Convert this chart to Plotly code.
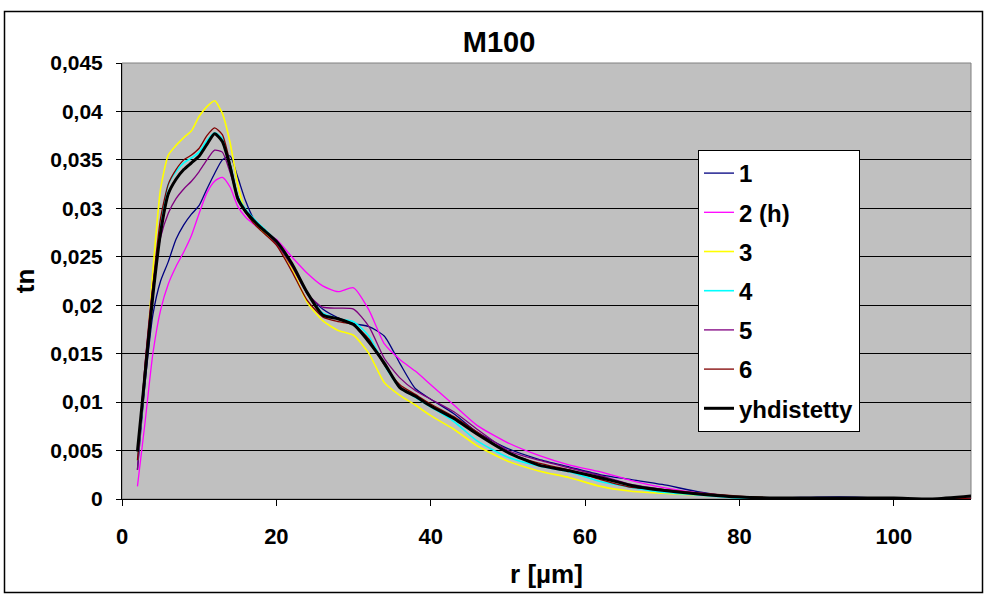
import plotly.graph_objects as go

# Radius bins [µm]
r = [2, 3, 4, 5, 6, 7, 8, 9, 10, 11, 12, 13, 14, 15, 16, 17, 18, 20, 22, 24, 26, 28, 30,
     32, 34, 36, 38, 40, 43, 46, 50, 54, 58, 62, 66, 70, 75, 80, 85, 90, 95, 100, 105, 110]

s1 = [0.0030, 0.0120, 0.0190, 0.0225, 0.0245, 0.0268, 0.0283, 0.0294, 0.0303, 0.0320, 0.0336, 0.0350, 0.0354,
      0.0332, 0.0308, 0.0290, 0.0280, 0.0265, 0.0242, 0.0212, 0.0196, 0.0187, 0.0181,
      0.0178, 0.0168, 0.0140, 0.0114, 0.0103, 0.0088, 0.0069, 0.0052, 0.0041, 0.0033, 0.0025, 0.0020,
      0.0015, 0.0007, 0.0002, 0.0001, 0.0002, 0.0002, 0.0000, 0.0000, 0.0001]
s2 = [0.0013, 0.0080, 0.0150, 0.0195, 0.0222, 0.0240, 0.0255, 0.0272, 0.0295, 0.0316, 0.0328, 0.0332, 0.0322,
      0.0302, 0.0291, 0.0284, 0.0278, 0.0268, 0.0250, 0.0233, 0.0220, 0.0214, 0.0218,
      0.0195, 0.0160, 0.0144, 0.0132, 0.0118, 0.0097, 0.0076, 0.0058, 0.0045, 0.0035, 0.0028, 0.0019,
      0.0012, 0.0006, 0.0002, 0.0001, 0.0001, 0.0001, 0.0000, 0.0000, 0.0001]
s3 = [0.0040, 0.0130, 0.0235, 0.0320, 0.0355, 0.0365, 0.0373, 0.0380, 0.0395, 0.0405, 0.0411, 0.0398, 0.0368,
      0.0325, 0.0296, 0.0286, 0.0278, 0.0263, 0.0238, 0.0203, 0.0184, 0.0174, 0.0169,
      0.0150, 0.0120, 0.0107, 0.0097, 0.0086, 0.0072, 0.0055, 0.0039, 0.0029, 0.0022, 0.0013, 0.0008,
      0.0006, 0.0004, 0.0002, 0.0001, 0.0001, 0.0000, 0.0000, 0.0000, 0.0001]
s4 = [0.0040, 0.0130, 0.0210, 0.0280, 0.0325, 0.0338, 0.0347, 0.0352, 0.0358, 0.0370, 0.0378, 0.0372, 0.0347,
      0.0313, 0.0299, 0.0290, 0.0282, 0.0266, 0.0242, 0.0212, 0.0192, 0.0186, 0.0183,
      0.0168, 0.0138, 0.0115, 0.0105, 0.0095, 0.0080, 0.0060, 0.0043, 0.0034, 0.0028, 0.0018, 0.0012,
      0.0007, 0.0004, 0.0001, 0.0001, 0.0001, 0.0001, 0.0000, 0.0000, 0.0001]
s5 = [0.0030, 0.0140, 0.0220, 0.0270, 0.0295, 0.0310, 0.0320, 0.0328, 0.0338, 0.0350, 0.0360, 0.0358, 0.0337,
      0.0312, 0.0296, 0.0287, 0.0280, 0.0263, 0.0240, 0.0212, 0.0198, 0.0197, 0.0196,
      0.0178, 0.0145, 0.0125, 0.0112, 0.0103, 0.0090, 0.0072, 0.0050, 0.0040, 0.0032, 0.0024, 0.0015,
      0.0010, 0.0005, 0.0002, 0.0001, 0.0001, 0.0001, 0.0000, 0.0000, 0.0001]
s6 = [0.0040, 0.0140, 0.0220, 0.0290, 0.0325, 0.0340, 0.0350, 0.0355, 0.0362, 0.0375, 0.0383, 0.0376, 0.0347,
      0.0312, 0.0296, 0.0285, 0.0277, 0.0262, 0.0235, 0.0205, 0.0188, 0.0183, 0.0180,
      0.0165, 0.0138, 0.0118, 0.0108, 0.0098, 0.0085, 0.0069, 0.0048, 0.0037, 0.0030, 0.0020, 0.0012,
      0.0010, 0.0006, 0.0003, 0.0001, 0.0001, 0.0001, 0.0000, 0.0000, 0.0001]
combined = [0.0049, 0.0130, 0.0210, 0.0275, 0.0315, 0.0330, 0.0340, 0.0347, 0.0354, 0.0366, 0.0377, 0.0369, 0.0343,
            0.0310, 0.0297, 0.0288, 0.0280, 0.0266, 0.0243, 0.0213, 0.0190, 0.0186, 0.0180,
            0.0162, 0.0140, 0.0115, 0.0106, 0.0096, 0.0083, 0.0067, 0.0048, 0.0035, 0.0029, 0.0022, 0.0014,
            0.0009, 0.0005, 0.0002, 0.0001, 0.0001, 0.0001, 0.0001, 0.0000, 0.0003]

names = ["1", "2 (h)", "3", "4", "5", "6", "yhdistetty"]
series = [s1, s2, s3, s4, s5, s6, combined]
colors = ["#000080", "#FF00FF", "#FFFF00", "#00FFFF", "#800080", "#800000", "#000000"]
widths = [1.3, 1.3, 1.6, 1.6, 1.3, 1.3, 3]

y_ticks = [0, 0.005, 0.01, 0.015, 0.02, 0.025, 0.03, 0.035, 0.04, 0.045]
y_ticktext = ["0", "0,005", "0,01", "0,015", "0,02", "0,025", "0,03", "0,035", "0,04", "0,045"]
x_ticks = [0, 20, 40, 60, 80, 100]

W, H = 987, 594
L, R, T, B = 122, 16, 63, 95

fig = go.Figure()
for name, vals, col, w in zip(names, series, colors, widths):
    fig.add_trace(go.Scatter(
        x=r, y=vals, name=name, mode="lines", legendgroup=name,
        line=dict(color=col, width=w, shape="spline", smoothing=0.6),
    ))

font_family = "Liberation Sans, Arial, sans-serif"


def px_to_paper_x(px):
    return (px - L) / (W - L - R)


def px_to_paper_y(py):
    return (H - B - py) / (H - T - B)


fig.update_layout(
    width=W, height=H,
    margin=dict(l=L, r=R, t=T, b=B),
    paper_bgcolor="white",
    plot_bgcolor="#C0C0C0",
    font=dict(family=font_family, color="black"),
    title=dict(text="<b>M100</b>", x=499 / W, xref="container", xanchor="center",
               y=1 - 42 / H, yanchor="middle", font=dict(size=29, family=font_family)),
    xaxis=dict(
        range=[0, 110], tickvals=x_ticks, showgrid=False, zeroline=False,
        showline=True, linecolor="black", linewidth=1, automargin=False,
        ticks="outside", ticklen=6, tickcolor="black", ticklabelstandoff=12,
        tickfont=dict(size=22, family=font_family, weight="bold"),
        title=dict(text="<b>r [µm]</b>", font=dict(size=26, family=font_family), standoff=16),
    ),
    yaxis=dict(
        range=[0, 0.045], tickvals=y_ticks, ticktext=y_ticktext,
        showgrid=True, gridcolor="black", gridwidth=1, zeroline=False,
        showline=True, linecolor="black", linewidth=1, automargin=False,
        ticks="outside", ticklen=5, tickcolor="black", ticklabelstandoff=9,
        tickfont=dict(size=21, family=font_family, weight="bold"),
        title=dict(text="<b>tn</b>", font=dict(size=26, family=font_family), standoff=8),
    ),
    legend=dict(
        x=px_to_paper_x(698), y=px_to_paper_y(150), xanchor="left", yanchor="top",
        bgcolor="white", bordercolor="black", borderwidth=1,
        font=dict(size=24, family=font_family, weight="bold"),
        tracegroupgap=5, itemwidth=30,
    ),
    showlegend=True,
)

# Plot-area frame (top and right edges) and the outer chart border
fig.add_shape(type="rect", xref="paper", yref="paper", x0=0, x1=1, y0=0, y1=1,
              line=dict(color="#808080", width=1), layer="below")
fig.add_shape(type="rect", xref="paper", yref="paper",
              x0=px_to_paper_x(4.5), x1=px_to_paper_x(982.5),
              y0=px_to_paper_y(592.5), y1=px_to_paper_y(11.5),
              line=dict(color="black", width=1.5))

fig.write_html("out.html")
